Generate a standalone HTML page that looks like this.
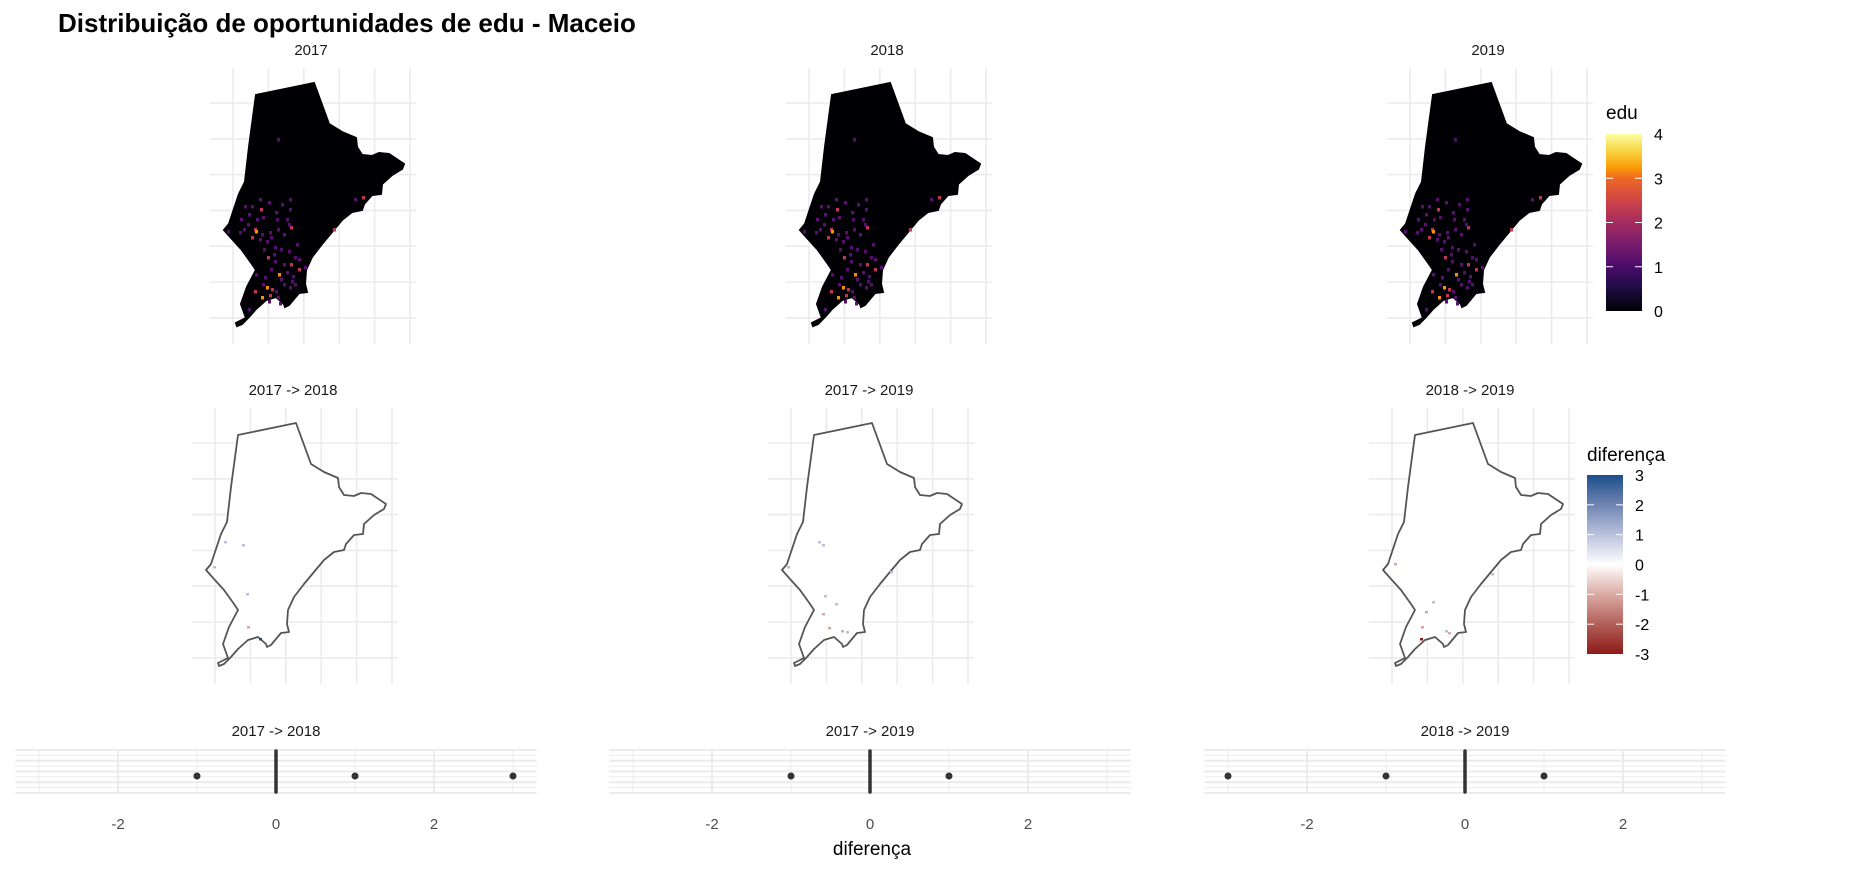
<!DOCTYPE html>
<html><head><meta charset="utf-8">
<style>
html,body{margin:0;padding:0;background:#fff;}
svg{display:block;font-family:"Liberation Sans",Arial,sans-serif;}
</style></head>
<body>
<svg id="chart" width="1875" height="870" viewBox="0 0 1875 870">
<defs>
<linearGradient id="inferno" x1="0" y1="1" x2="0" y2="0">
<stop offset="0" stop-color="#000004"/><stop offset="0.125" stop-color="#1b0c41"/>
<stop offset="0.25" stop-color="#4a0c6b"/><stop offset="0.375" stop-color="#781c6d"/>
<stop offset="0.5" stop-color="#a52c60"/><stop offset="0.625" stop-color="#cf4446"/>
<stop offset="0.75" stop-color="#ed6925"/><stop offset="0.81" stop-color="#fb9b06"/>
<stop offset="0.9" stop-color="#f7d13d"/><stop offset="1" stop-color="#fcffa4"/>
</linearGradient>
<linearGradient id="divg" x1="0" y1="1" x2="0" y2="0">
<stop offset="0" stop-color="#8e1a18"/><stop offset="0.17" stop-color="#b3605a"/>
<stop offset="0.33" stop-color="#d9a9a2"/><stop offset="0.5" stop-color="#ffffff"/>
<stop offset="0.67" stop-color="#b8c1dc"/><stop offset="0.83" stop-color="#7185b2"/>
<stop offset="1" stop-color="#1b4f8b"/>
</linearGradient>
</defs>
<text x="58" y="32" font-size="26" font-weight="bold" fill="#000">Distribuição de oportunidades de edu - Maceio</text>
<g id="maps"></g>
<g id="strips"></g>
<g id="legends"></g>
</svg>
<script>
const NS="http://www.w3.org/2000/svg";
function mk(tag,attrs,parent){const e=document.createElementNS(NS,tag);for(const k in attrs)e.setAttribute(k,attrs[k]);parent.appendChild(e);return e;}

// ---- data ----
const topTitles=["2017","2018","2019"];
const midTitles=["2017 -> 2018","2017 -> 2019","2018 -> 2019"];
const stripTitles=["2017 -> 2018","2017 -> 2019","2018 -> 2019"];
const stripValues=[[-1,1,3],[-1,1],[-3,-1,1]];
const stripTicks=[-2,0,2];
const eduTicks=[0,1,2,3,4];
const diffTicks=[-3,-2,-1,0,1,2,3];
// speckle cells for edu maps: local x, local y, value
const cellX=[12,18,25,36,48,55,57,15,22,30,42,52,58,10,20,23,28,35,45,55,5,-5,18,25,38,30,40,48,55,33,42,50,60,38,45,52,60,65,70,30,33,37,43,50,55,62,28,35,45,15,128,45,100,120,8,14,26,44,50,62,34,40,56,66,22,30,48,58,20,36,46];
const cellY=[137,137,130,133,135,130,140,145,150,148,143,150,158,160,160,162,165,163,160,155,163,162,168,170,168,180,178,180,182,188,192,195,188,200,205,203,207,200,198,215,218,220,222,215,218,215,228,226,228,240,128,70,160,130,150,155,140,150,165,175,172,185,195,190,205,208,210,212,222,232,234];
const cellV=[1,1,1,1,1,1,1,1,1,1,1,1,2,1,2,3,1,1,1,1,1,1,2,1,1,1,1,1,1,2,1,1,1,1,3,1,1,2,1,1,3,2,1,1,1,1,3,2,1,1,2,1,2,1,1,1,2,1,1,1,1,1,2,1,1,1,1,1,2,1,1];
// difference cells per middle panel
const diffX=[[9,27,31,-2,32,44],[27,31,-4,33,44,31,37,50,55,99],[2,40,33,29,53,56,28,99]];
const diffY=[[133,136,185,158,218,230],[133,136,158,187,195,205,219,222,223,163],[155,193,203,218,222,224,230,165]];
const diffV=[[1,1,1,1,-1,3],[1,1,1,1,1,-1,-1,-1,1,1],[-1,1,-1,-1,1,-1,-3,1]];

const shape=[[23,27],[81,15],[96,56],[109,64],[123,70],[124,79],[129,87],[139,88],[146,85],[156,86],[171,96],[169,101],[159,107],[149,116],[148,126],[139,127],[131,136],[129,142],[119,144],[109,152],[99,164],[89,176],[79,189],[73,202],[72,216],[74,224],[66,225],[61,231],[56,237],[52,239],[51,236],[43,229],[33,232],[23,241],[16,249],[9,256],[4,258],[3,255],[13,250],[8,236],[14,219],[23,202],[19,196],[9,182],[-1,171],[-9,162],[-4,156],[6,126],[12,114],[16,79]];

function infernoColor(v){const c=["#000004","#57106e","#bc3754","#f98e09","#fcffa4"];return c[Math.max(0,Math.min(4,Math.round(v)))];}
function divColor(v){const c={"-3":"#8e1a18","-2":"#b3605a","-1":"#d9a9a2","0":"#ffffff","1":"#b8c1dc","2":"#7185b2","3":"#1b4f8b"};return c[String(v)];}

const maps=document.getElementById('maps');
function drawGrid(g,x0,y0){
  for(let k=0;k<6;k++){const x=x0+k*35.4;
    const l=mk('line',{x1:x,y1:y0,x2:x,y2:y0+276,stroke:'#ebebeb','stroke-width':1.6},g);
    
    }
  for(let k=0;k<7;k++){const y=y0+35+k*35.8;
    const l=mk('line',{x1:x0-23,y1:y,x2:x0+183,y2:y,stroke:'#ebebeb','stroke-width':1.6},g);
    
    }
}
function pts(x0,y0){return shape.map(p=>(x0+p[0])+','+(y0+p[1])).join(' ');}
const colOffTop=[0,576,1177];
const colOffMid=[0,576,1177];
for(let c=0;c<3;c++){
  // top row
  const x0=233+colOffTop[c], y0=68;
  const g=mk('g',{},maps);
  
  
  const t=mk('text',{x:x0+78,y:55,'font-size':15,'text-anchor':'middle',fill:'#1a1a1a'},g);t.textContent=topTitles[c];
  
  
  drawGrid(g,x0,y0);
  const p=mk('polygon',{points:pts(x0,y0),fill:'#000004',stroke:'#000004','stroke-width':2},g);
  
  
  for(let i=0;i<cellX.length;i++){
    const r=mk('rect',{x:x0+cellX[i]+((c*3+i)%3-1),y:y0+cellY[i],width:3,height:3.5,fill:infernoColor(cellV[i])},g);
    
    
  }
  // middle row
  const mx=215+colOffMid[c], my=408;
  const g2=mk('g',{},maps);
  
  
  const t2=mk('text',{x:mx+78,y:395,'font-size':15,'text-anchor':'middle',fill:'#1a1a1a'},g2);t2.textContent=midTitles[c];
  
  
  drawGrid(g2,mx,my);
  const p2=mk('polygon',{points:pts(mx,my),fill:'#fff',stroke:'#555','stroke-width':1.8,'stroke-linejoin':'round'},g2);
  
  
  for(let i=0;i<diffX[c].length;i++){
    const r=mk('rect',{x:mx+diffX[c][i],y:my+diffY[c][i],width:3,height:2.5,fill:divColor(diffV[c][i])},g2);
    
    
  }
}

// ---- strips ----
const strips=document.getElementById('strips');
const stripZero=[276,870,1465];
const unit=79;
for(let c=0;c<3;c++){
  const z=stripZero[c];
  const xs=v=>z+v*unit;
  const g=mk('g',{},strips);
  
  
  const hy=[750,755.4,760.8,766.1,771.5,776.9,782.3,787.6,793];
  hy.forEach((y,i)=>{const l=mk('line',{x1:xs(-3.3),x2:xs(3.3),y1:y,y2:y,stroke:'#ebebeb','stroke-width':i%2===0?2:1},g);
    
    });
  [-3,-2,-1,0,1,2,3].forEach(v=>{const l=mk('line',{x1:xs(v),x2:xs(v),y1:750,y2:793,stroke:'#ebebeb','stroke-width':v%2===0?2:1},g);
    
    });
  const t=mk('text',{x:z,y:736,'font-size':15,'text-anchor':'middle',fill:'#1a1a1a'},g);t.textContent=stripTitles[c];
  
  
  const zl=mk('line',{x1:xs(0),x2:xs(0),y1:751,y2:792,stroke:'#333','stroke-width':3.5,'stroke-linecap':'round'},g);
  
  
  stripValues[c].forEach(v=>{const d=mk('circle',{cx:xs(v),cy:776,r:3.5,fill:'#333'},g);
    
    });
  stripTicks.forEach(v=>{const tt=mk('text',{x:xs(v),y:829,'font-size':15,'text-anchor':'middle',fill:'#4d4d4d'},g);tt.textContent=String(v);
    
    });
}
const xt=mk('text',{x:872,y:855,'font-size':19,'text-anchor':'middle',fill:'#000'},strips);xt.textContent='diferença';



// ---- legends ----
const leg=document.getElementById('legends');
function legend(name,title,tx,ty,bx,by0,by1,grad,ticks,lx){
  const g=mk('g',{},leg);
  
  
  const t=mk('text',{x:tx,y:ty,'font-size':19,fill:'#000'},g);t.textContent=title;
  
  
  const r=mk('rect',{x:bx,y:by0,width:36,height:by1-by0,fill:'url(#'+grad+')'},g);
  
  
  const lo=ticks[0],hi=ticks[ticks.length-1];
  ticks.forEach(v=>{const y=by1-(v-lo)/(hi-lo)*(by1-by0);
    if(v!==lo&&v!==hi){
      const a=mk('line',{x1:bx,x2:bx+7,y1:y,y2:y,stroke:'#fff','stroke-width':1},g);
      
      
      const b=mk('line',{x1:bx+29,x2:bx+36,y1:y,y2:y,stroke:'#fff','stroke-width':1},g);
      
      }
    const l=mk('text',{x:lx,y:y+6,'font-size':16,fill:'#000'},g);l.textContent=String(v);
    
    });
}
legend('edu-legend','edu',1606,119,1606,134,311,'inferno',eduTicks,1654);
legend('diferenca-legend','diferença',1587,461,1587,475,654,'divg',diffTicks,1635);
</script>
</body></html>
